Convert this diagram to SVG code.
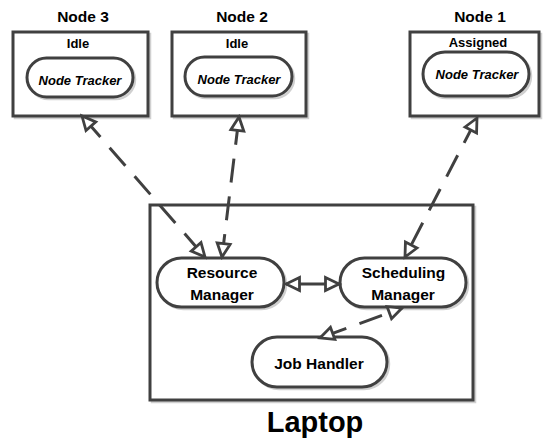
<svg xmlns="http://www.w3.org/2000/svg" width="543" height="441" viewBox="0 0 543 441">
<style>
.box{fill:#fff;stroke:#404040;stroke-width:3}
.sh{fill:none;stroke:#d0d0d0;stroke-width:2.5}
.pill{fill:#fff;stroke:#404040;stroke-width:3}
.t{font-family:"Liberation Sans",Arial,sans-serif;font-weight:bold;fill:#000;text-anchor:middle}
.title{font-size:15.5px}
.state{font-size:13px}
.nt{font-size:13px;font-style:italic}
.lbl{font-size:15.5px}
.big{font-size:29px}
.con{fill:none;stroke:#404040;stroke-width:3}
.dash{stroke-dasharray:24 14;stroke-dashoffset:-4}
</style>
<defs>
<marker id="ah" viewBox="-3 -3 20 19" markerUnits="userSpaceOnUse" markerWidth="20" markerHeight="19" refX="13.5" refY="6.5" orient="auto-start-reverse">
<path d="M0,0 L13.5,6.5 L0,13 z" fill="#fff" stroke="#404040" stroke-width="2.8" stroke-linejoin="miter"/>
</marker>
</defs>
<rect width="543" height="441" fill="#fff"/>
<g id="laptop">
<rect class="sh" x="152" y="207" width="323" height="195"/>
<rect class="box" x="150" y="205" width="323" height="195"/>
<text class="t big" x="315" y="432">Laptop</text>
</g>
<g id="node3">
<text class="t title" x="83" y="22">Node 3</text>
<rect class="sh" x="15" y="34" width="135" height="84"/>
<rect class="box" x="13" y="32" width="135" height="84"/>
<text class="t state" x="78" y="48">Idle</text>
<rect class="sh" x="29" y="60" width="106" height="39" rx="19.5"/>
<rect class="pill" x="27" y="58" width="106" height="39" rx="19.5"/>
<text class="t nt" x="80" y="84.5">Node Tracker</text>
</g>
<g id="node2">
<text class="t title" x="242" y="22">Node 2</text>
<rect class="sh" x="174" y="34" width="134" height="84"/>
<rect class="box" x="172" y="32" width="134" height="84"/>
<text class="t state" x="237" y="48">Idle</text>
<rect class="sh" x="187" y="59" width="107" height="39" rx="19.5"/>
<rect class="pill" x="185" y="57" width="107" height="39" rx="19.5"/>
<text class="t nt" x="239" y="83.5">Node Tracker</text>
</g>
<g id="node1">
<text class="t title" x="480" y="22">Node 1</text>
<rect class="sh" x="412" y="34" width="129" height="84"/>
<rect class="box" x="410" y="32" width="129" height="84"/>
<text class="t state" x="478" y="46.5">Assigned</text>
<rect class="sh" x="425" y="54" width="106" height="44" rx="22"/>
<rect class="pill" x="423" y="52" width="106" height="44" rx="22"/>
<text class="t nt" x="477" y="79">Node Tracker</text>
</g>
<g id="resource-manager">
<rect class="sh" x="159" y="260" width="127" height="49" rx="24.5"/>
<rect class="pill" x="157" y="258" width="127" height="49" rx="24.5"/>
<text class="t lbl" x="222" y="277.5">Resource</text>
<text class="t lbl" x="222" y="299.5">Manager</text>
</g>
<g id="scheduling-manager">
<rect class="sh" x="342" y="260" width="126" height="49" rx="24.5"/>
<rect class="pill" x="340" y="258" width="126" height="49" rx="24.5"/>
<text class="t lbl" x="403.5" y="278">Scheduling</text>
<text class="t lbl" x="403" y="299.5">Manager</text>
</g>
<g id="job-handler">
<rect class="sh" x="254" y="339" width="135" height="50" rx="25"/>
<rect class="pill" x="252" y="337" width="135" height="50" rx="25"/>
<text class="t lbl" x="319" y="368.5">Job Handler</text>
</g>
<g id="connectors">
<path class="con dash" d="M82,116 L205,257" marker-start="url(#ah)" marker-end="url(#ah)"/>
<path class="con dash" d="M239,117 L222,257" marker-start="url(#ah)" marker-end="url(#ah)"/>
<path class="con dash" d="M477,118 L405,257" marker-start="url(#ah)" marker-end="url(#ah)"/>
<path class="con" d="M286,284 L339,284" marker-start="url(#ah)" marker-end="url(#ah)"/>
<path class="con dash" d="M320,338 L402,308" marker-start="url(#ah)" marker-end="url(#ah)"/>
</g>
</svg>
